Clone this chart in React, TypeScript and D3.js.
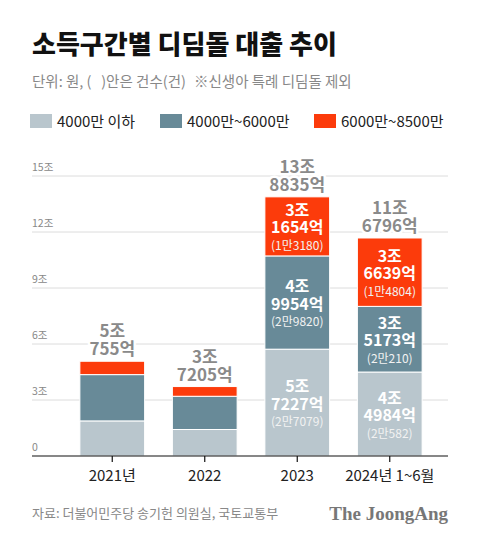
import React from "react";
import * as d3 from "d3";

const categories = ["2021년", "2022", "2023", "2024년 1~6월"];
const seriesNames = ["4000만 이하", "4000만~6000만", "6000만~8500만"];
const seriesColors = ["#b9c6cd", "#688a98", "#fc3b0b"];
// values in 조원
const low = [1.88, 1.42, 5.7227, 4.4984];
const mid = [2.48, 1.78, 4.9954, 3.5173];
const high = [0.7155, 0.5205, 3.1654, 3.6639];
const totalTop = ["5조", "3조", "13조", "11조"];
const totalBottom = ["755억", "7205억", "8835억", "6796억"];
// segment labels (only for 2023, 2024)
const lowLabels = [null, null, ["5조", "7227억", "(2만7079)"], ["4조", "4984억", "(2만582)"]];
const midLabels = [null, null, ["4조", "9954억", "(2만9820)"], ["3조", "5173억", "(2만210)"]];
const highLabels = [null, null, ["3조", "1654억", "(1만3180)"], ["3조", "6639억", "(1만4804)"]];
const yTicks = [0, 3, 6, 9, 12, 15];
const tickLabels = ["0", "3조", "6조", "9조", "12조", "15조"];

const FONT = "'Noto Sans CJK KR', 'Noto Sans', sans-serif";

export default function App() {
  const W = 480, H = 544;
  const x = d3.scaleBand<string>().domain(categories).range([66, 436]).paddingInner(0.3).paddingOuter(0.15);
  const y = d3.scaleLinear().domain([0, 15]).range([456, 176]);
  const stackData = categories.map((c, i) => ({ cat: c, low: low[i], mid: mid[i], high: high[i] }));
  const stack = d3.stack<any>().keys(["low", "mid", "high"])(stackData);
  const segLabels = [lowLabels, midLabels, highLabels];

  return (
    <svg width={W} height={H} style={{ position: "absolute", left: 0, top: 0, background: "#fff" }} fontFamily={FONT}>
      <rect width={W} height={H} fill="#fff" />
      <text x={32} y={54} fontSize={26} fontWeight={900} fill="#111">소득구간별 디딤돌 대출 추이</text>
      <text x={32} y={87} fontSize={14.5} fill="#888" style={{ whiteSpace: "pre" }}>{"단위: 원, (   )안은 건수(건)"}</text>
      <text x={194} y={87} fontSize={14.5} fill="#888">※신생아 특례 디딤돌 제외</text>
      {seriesNames.map((s, i) => {
        const lx = [30, 160, 314][i];
        return (
          <g key={s}>
            <rect x={lx} y={114} width={22} height={14} fill={seriesColors[i]} />
            <text x={lx + 27} y={126.5} fontSize={15} fill="#222">{s}</text>
          </g>
        );
      })}
      {yTicks.map((t, i) => (
        <g key={t}>
          {t !== 0 && <line x1={32} x2={448} y1={y(t)} y2={y(t)} stroke="#dcdcdc" strokeWidth={1} />}
          <text x={32} y={y(t) - 5} fontSize={10.5} fill="#888">{tickLabels[i]}</text>
        </g>
      ))}
      {stack.map((layer, li) => (
        <g key={li}>
          {layer.map((d, i) => (
            <rect key={i} x={x(categories[i])} y={y(d[1])} width={x.bandwidth()} height={y(d[0]) - y(d[1])}
              fill={seriesColors[li]} stroke="#fff" strokeWidth={1} />
          ))}
        </g>
      ))}
      {stack.map((layer, li) =>
        layer.map((d, i) => {
          const lab = segLabels[li][i];
          if (!lab) return null;
          const cx = x(categories[i])! + x.bandwidth() / 2;
          const cy = (y(d[0]) + y(d[1])) / 2;
          return (
            <g key={li + "-" + i} textAnchor="middle" fill="#fff">
              <text x={cx} y={cy - 10.5} fontSize={16} fontWeight={700}>{lab[0]}</text>
              <text x={cx} y={cy + 7} fontSize={16} fontWeight={700}>{lab[1]}</text>
              <text x={cx} y={cy + 23.5} fontSize={12} fill="#f2f2f2">{lab[2]}</text>
            </g>
          );
        })
      )}
      {categories.map((c, i) => {
        const cx = x(c)! + x.bandwidth() / 2;
        const top = y(low[i] + mid[i] + high[i]);
        return (
          <g key={c} textAnchor="middle" fontSize={17} fontWeight={700} fill="#8a8a8a"
            stroke="#fff" strokeWidth={5} paintOrder="stroke" strokeLinejoin="round">
            <text x={cx} y={top - 24}>{totalTop[i]}</text>
            <text x={cx} y={top - 6}>{totalBottom[i]}</text>
          </g>
        );
      })}
      <line x1={32} x2={448} y1={y(0)} y2={y(0)} stroke="#111" strokeWidth={1.2} />
      {categories.map((c) => {
        const cx = x(c)! + x.bandwidth() / 2;
        return (
          <g key={c}>
            <line x1={cx} x2={cx} y1={y(0)} y2={y(0) + 6} stroke="#111" strokeWidth={1.2} />
            <text x={cx} y={481} textAnchor="middle" fontSize={15} fill="#222">{c}</text>
          </g>
        );
      })}
      <text x={32} y={518} fontSize={13} fill="#888">자료: 더불어민주당 송기헌 의원실, 국토교통부</text>
      <text x={448} y={520} textAnchor="end" fontSize={19} fontWeight={700} fill="#777"
        fontFamily="'Liberation Serif', 'DejaVu Serif', serif">The JoongAng</text>
    </svg>
  );
}
